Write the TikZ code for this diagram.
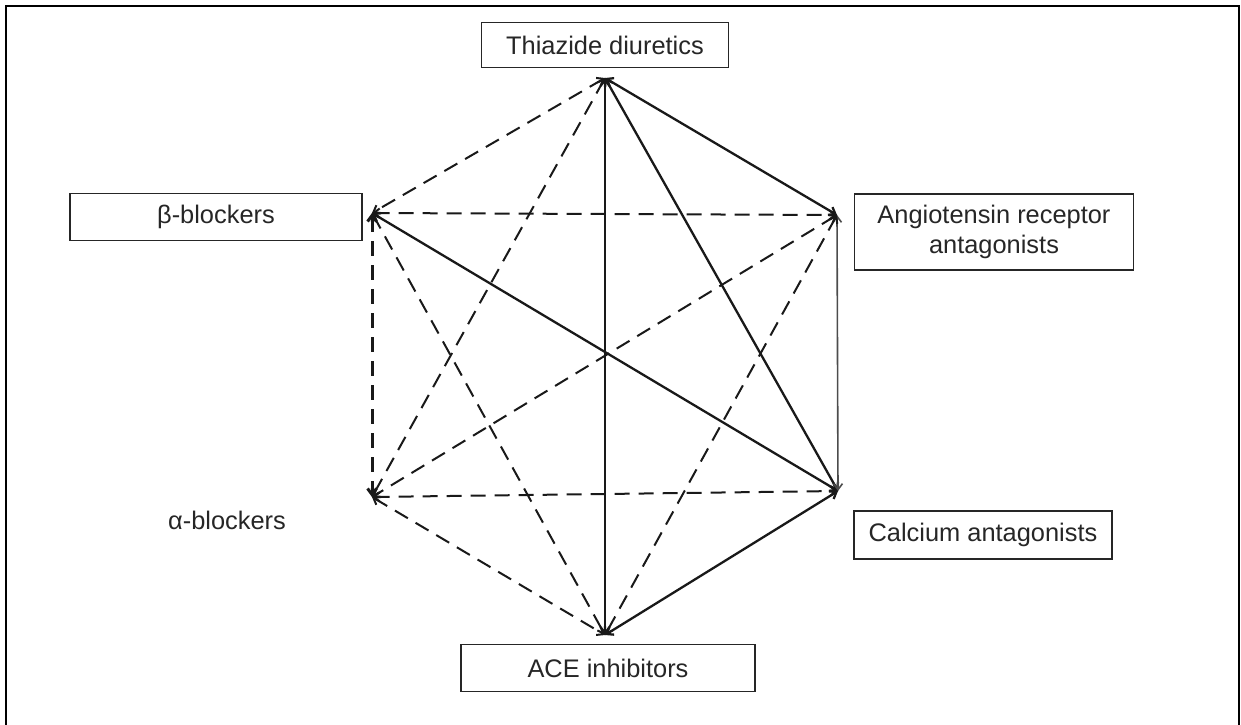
\documentclass[tikz,border=0pt]{standalone}
\usepackage{fontspec}
\setmainfont{Liberation Sans}
\usetikzlibrary{arrows.meta}
\begin{document}
\begin{tikzpicture}[x=1bp,y=-1bp,
  lbl/.style={draw=black!85, line width=1.6bp, font=\fontsize{25.5}{30}\selectfont, text=black!85, inner sep=0pt, align=center},
  solidedge/.style={line width=2.3bp, draw=black!90, {Straight Barb[length=6bp,width=9bp]}-{Straight Barb[length=6bp,width=9bp]}},
  thinedge/.style={solidedge, line width=1.6bp, draw=black!70},
  dashedge/.style={solidedge, line width=2bp, dash pattern=on 15bp off 9bp},
  thickdash/.style={dashedge, line width=3bp}]
\useasboundingbox (0,0) rectangle (1241,725);
\draw[line width=2.5bp] (6,725) -- (6,6) -- (1239,6) -- (1239,725);

\node[lbl, minimum width=247bp, minimum height=45bp] (thzbox) at (605,45) {Thiazide diuretics};
\node[lbl, minimum width=292bp, minimum height=47bp] (betabox) at (216,217) {β-blockers};
\node[lbl, minimum width=279bp, minimum height=76bp] (arbbox) at (994,232) {Angiotensin receptor\\antagonists};
\node[lbl, minimum width=258bp, minimum height=48bp] (cabox) at (983,535) {Calcium antagonists};
\node[lbl, minimum width=294bp, minimum height=47bp] (acebox) at (608,668) {ACE inhibitors};
\node[font=\fontsize{25.5}{30}\selectfont, text=black!85, inner sep=0pt] (alphalbl) at (227,520) {α-blockers};

\coordinate (T) at (605,78);
\coordinate (B) at (372,213);
\coordinate (R) at (837,215);
\coordinate (A) at (372,497);
\coordinate (C) at (838,491);
\coordinate (E) at (605,635);

% solid (preferred) combinations
\draw[solidedge] (T) -- (R);
\draw[solidedge] (T) -- (C);
\draw[solidedge] (T) -- (E);
\draw[solidedge] (B) -- (C);
\draw[solidedge] (C) -- (E);
\draw[thinedge] (R) -- (C);
% dashed combinations
\draw[dashedge] (T) -- (B);
\draw[dashedge] (T) -- (A);
\draw[dashedge] (B) -- (R);
\draw[thickdash] (B) -- (A);
\draw[dashedge] (B) -- (E);
\draw[dashedge] (R) -- (A);
\draw[dashedge] (R) -- (E);
\draw[dashedge] (A) -- (C);
\draw[dashedge] (A) -- (E);
\end{tikzpicture}
\end{document}
